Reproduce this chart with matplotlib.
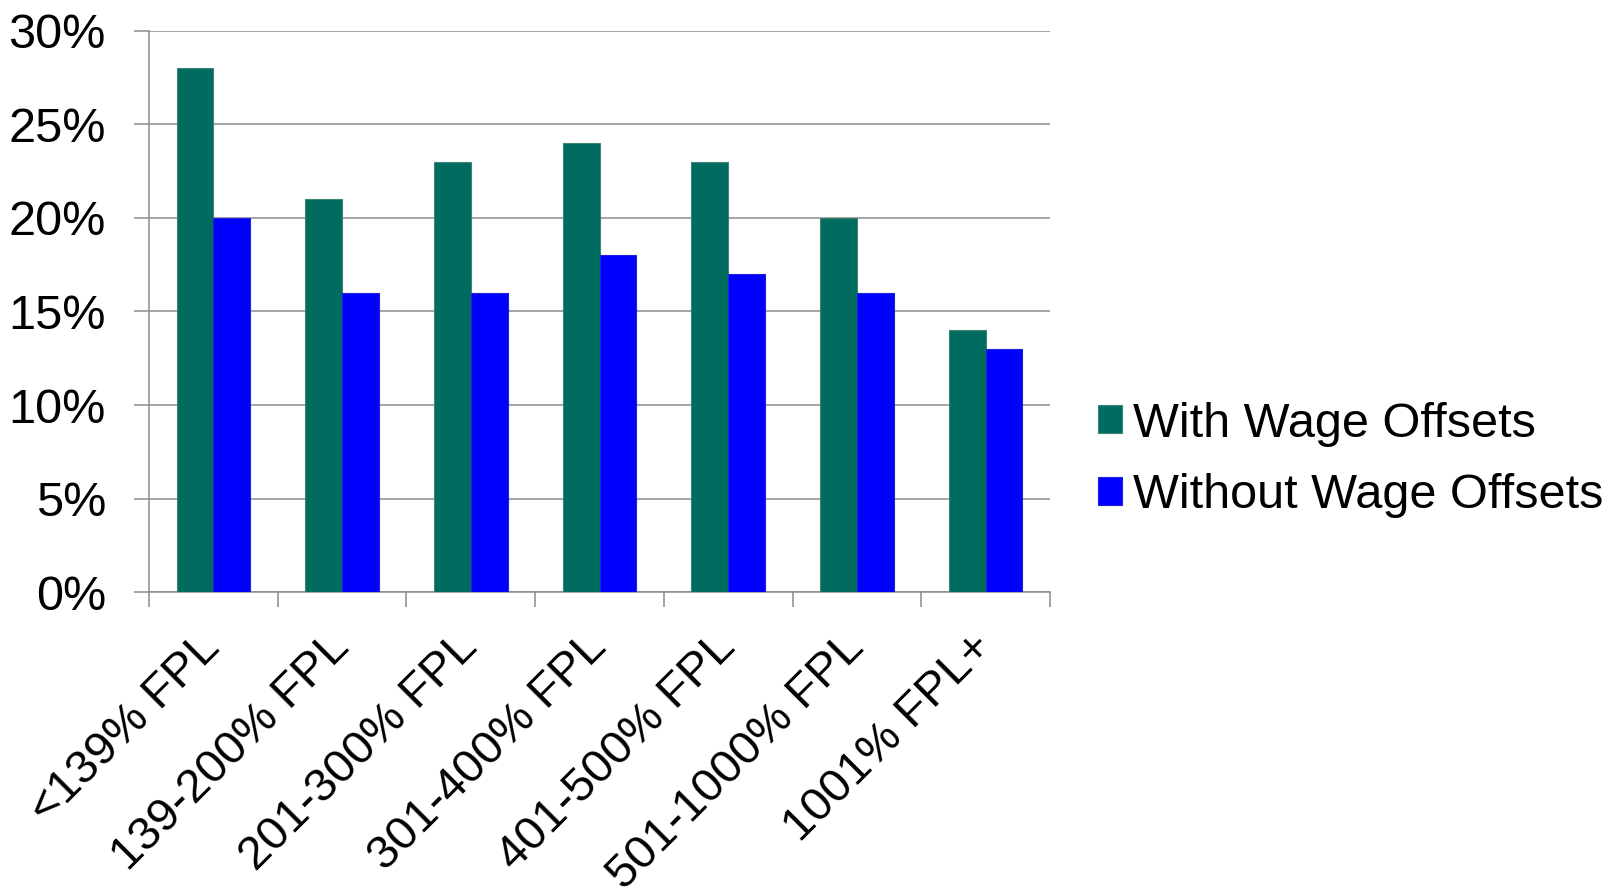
import numpy as np
import matplotlib.pyplot as plt
from matplotlib.ticker import FuncFormatter

plt.rcParams['font.family'] = ['Liberation Sans', 'DejaVu Sans']

categories = ['<139% FPL', '139-200% FPL', '201-300% FPL', '301-400% FPL',
              '401-500% FPL', '501-1000% FPL', '1001% FPL+']
with_offsets = [28, 21, 23, 24, 23, 20, 14]
without_offsets = [20, 16, 16, 18, 17, 16, 13]

green = '#006B5F'
blue = '#0000FF'
grid_gray = '#8C8C8C'

fig = plt.figure(figsize=(16.14, 8.93), dpi=100)
ax = fig.add_axes([0.0923, 0.337, 0.5583, 0.6284])

x = np.arange(len(categories))
w = 1 / 3.5
ax.bar(x - w / 2, with_offsets, w, color=green, edgecolor='#3E8479', linewidth=0.8,
       label='With Wage Offsets', zorder=3)
ax.bar(x + w / 2, without_offsets, w, color=blue, edgecolor='#2020E0', linewidth=0.8,
       label='Without Wage Offsets', zorder=3)

ax.set_xlim(-0.5, len(categories) - 0.5)
ax.set_ylim(0, 30)
ax.set_yticks(range(0, 31, 5))
ax.yaxis.set_major_formatter(FuncFormatter(lambda v, p: f'{v:.0f}%'))
ax.grid(axis='y', color=grid_gray, linewidth=1.1, zorder=0)

# category boundaries carry the ticks, labels sit at the centres
ax.set_xticks(x)
ax.set_xticks(np.arange(-0.5, len(categories), 1), minor=True)
ax.tick_params(axis='x', which='major', length=0, pad=35)
ax.tick_params(axis='x', which='minor', length=11, width=1.1, color=grid_gray)
ax.tick_params(axis='y', length=11, width=1.1, color=grid_gray, pad=20, labelsize=35)
ax.set_xticklabels(categories, rotation=45, ha='right', va='center',
                   rotation_mode='anchor', fontsize=34)

for side in ['top', 'right']:
    ax.spines[side].set_visible(False)
for side in ['left', 'bottom']:
    ax.spines[side].set_color(grid_gray)
    ax.spines[side].set_linewidth(1.1)

fig.legend(loc='center left', bbox_to_anchor=(0.680, 0.485), frameon=False,
           fontsize=35, handlelength=0.5, handleheight=0.5, handletextpad=0.22,
           labelspacing=0.55, borderpad=0, borderaxespad=0)

fig.savefig('out.png', dpi=100)
